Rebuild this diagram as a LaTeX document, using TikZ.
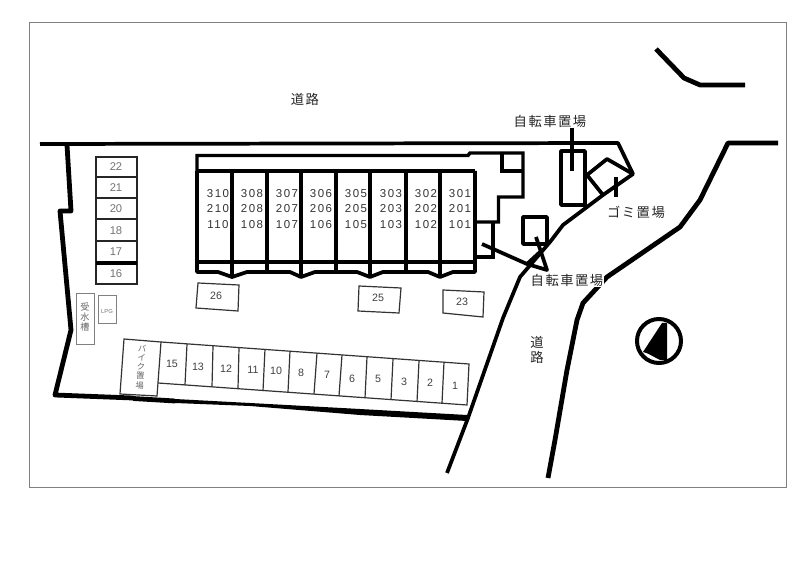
\documentclass[tikz,border=0pt]{standalone}
\usepackage{fontspec}
\setmainfont{Liberation Sans}
\newfontfamily\cjk{Noto Sans CJK JP}
\tikzset{
    wall/.style = {line width=3.6pt,black,line join=round},
    wallm/.style = {line width=2.8pt,black,line join=round},
    walls/.style = {line width=2.6pt,black},
    lotline/.style = {line width=1.6pt,black!85},
    stall/.style = {line width=0.9pt,black!80},
    stallg/.style = {line width=0.7pt,black!50},
    frame/.style = {line width=0.6pt,black!50},
    roomtxt/.style = {align=center,text=black!80,font=\fontsize{8.6}{11.6}\selectfont\addfontfeatures{LetterSpace=13}},
    numtxt/.style = {text=black!75,inner sep=0pt,font=\fontsize{8}{9}\selectfont},
    numtxtg/.style = {text=black!55,inner sep=0pt,font=\fontsize{8.4}{9}\selectfont},
    jptxt/.style = {inner sep=0pt,align=center,text=black!85,font=\cjk\fontsize{10}{11.6}\selectfont\addfontfeatures{LetterSpace=11}},
    jpsmall/.style = {inner sep=0pt,align=center,text=black!60,font=\cjk\fontsize{6.8}{7.6}\selectfont},
    jpbike/.style = {inner sep=0pt,align=center,text=black!60,font=\cjk\fontsize{6.2}{6.9}\selectfont}
}
\begin{document}
\begin{tikzpicture}[x=0.75pt,y=-0.75pt,line join=miter]
  \useasboundingbox (0,0) rectangle (800,566);
  \draw[frame] (29,22) rectangle (786,487);

  % fences and road edges
  \draw[wallm] (40,144) -- (618,143) -- (633,174) -- (603,195) -- (563,225) -- (550,242) -- (520,277) -- (503,318) -- (468,418) -- (447,473);
  \draw[wall] (67,145) -- (71,211) -- (60,211) -- (71,330) -- (55,395) -- (133,398);
  \draw[wall] (133,398.5) -- (175,401);
  \fill (175,399) -- (175,403) -- (250,406) -- (360,415) -- (467,421) -- (467,415) -- (360,409) -- (250,403) -- cycle;
  \draw[wall] (778,143) -- (728,143) -- (700,200) -- (680,227) -- (607,277) -- (583,303) -- (577,320) -- (567,370) -- (555,440) -- (548,478);
  \draw[wall] (656,49) -- (684,78) -- (700,85) -- (745,85);

  % apartment block
  \draw[walls] (197,171) -- (197,155.5) -- (468,155.5) -- (470,153) -- (523,153) -- (523,197) -- (498.5,197) -- (498.5,222) -- (475,222);
  \draw[walls] (502,153) -- (502,171) -- (523,171);
  \draw[walls] (475,257) -- (493,257) -- (493,222);
  \draw[wallm] (197,171) -- (475,171);
  \draw[wallm] (197,262) -- (475,262);
  \draw[wallm] (197,171) -- (197,272) -- (218,272) -- (232,277) -- (247,272) -- (290,272) -- (301,277) -- (315,272) -- (357,272) -- (370,277) -- (383,272) -- (428,272) -- (440,277) -- (453,272) -- (475,272) -- (475,171);
  \draw[wall] (232,171) -- (232,276);
  \draw[wall] (267,171) -- (267,272);
  \draw[wall] (301,171) -- (301,276);
  \draw[wall] (336,171) -- (336,272);
  \draw[wall] (370,171) -- (370,276);
  \draw[wall] (406,171) -- (406,272);
  \draw[wall] (440,171) -- (440,276);
  \node[roomtxt] (room310) at (218,209) {310\\210\\110};
  \node[roomtxt] (room308) at (252,209) {308\\208\\108};
  \node[roomtxt] (room307) at (287,209) {307\\207\\107};
  \node[roomtxt] (room306) at (321,209) {306\\206\\106};
  \node[roomtxt] (room305) at (356,209) {305\\205\\105};
  \node[roomtxt] (room303) at (391,209) {303\\203\\103};
  \node[roomtxt] (room302) at (426,209) {302\\202\\102};
  \node[roomtxt] (room301) at (460,209) {301\\201\\101};

  % bicycle and rubbish sheds
  \draw[wallm] (561,151) rectangle (585,205);
  \draw[wallm] (572,128) -- (572,171);
  \draw[wallm] (587,175) -- (607,159) -- (633,174);
  \draw[wallm] (587,175) -- (603,195);
  \draw[wallm] (616,177) -- (616,197);
  \draw[wallm] (523,217) rectangle (547,244);
  \draw[wallm] (482,244) -- (527,264) -- (547,270) -- (536,237);
  \draw[wallm] (527,264) -- (540,252);

  % parking left
  \draw[lotline] (96,157) rectangle (137,284);
  \draw[lotline] (96,177) -- (137,177);
  \draw[lotline] (96,198) -- (137,198);
  \draw[lotline] (96,219) -- (137,219);
  \draw[lotline] (96,241) -- (137,241);
  \draw[walls] (96,263) -- (137,263);
  \node[numtxtg] (lot22) at (116,167) {22};
  \node[numtxtg] (lot21) at (116,188) {21};
  \node[numtxtg] (lot20) at (116,209) {20};
  \node[numtxtg] (lot18) at (116,231) {18};
  \node[numtxtg] (lot17) at (116,252) {17};
  \node[numtxtg] (lot16) at (116,274) {16};

  % tank and gas
  \draw[stallg] (76,293) rectangle (94,344);
  \draw[stallg] (98,295) rectangle (116,323);
  \node[jpsmall] (tank) at (85,317) {受\\水\\槽};
  \node[numtxtg,font=\fontsize{4.4}{5}\selectfont] (gas) at (107,311) {LPG};

  % parking bottom
  \draw[stall] (124,339) -- (161,342) -- (157,396) -- (120,394) -- cycle;
  \draw[stall] (161,342) -- (469,364) -- (467,405) -- (158,383);
  \draw[stall] (187,344) -- (185,385);
  \draw[stall] (213,346) -- (212,387);
  \draw[stall] (239,348) -- (238,389);
  \draw[stall] (265,349) -- (263,391);
  \draw[stall] (290,351) -- (288,392);
  \draw[stall] (317,353) -- (314,394);
  \draw[stall] (342,355) -- (339,396);
  \draw[stall] (367,357) -- (365,398);
  \draw[stall] (393,359) -- (391,400);
  \draw[stall] (419,361) -- (417,402);
  \draw[stall] (444,362) -- (442,403);
  \node[jpbike,rotate=-4] (bike) at (141,367) {バ\\イ\\ク\\置\\場};
  \node[numtxt] (lot15) at (172,364) {15};
  \node[numtxt] (lot13) at (198,367) {13};
  \node[numtxt] (lot12) at (226,369) {12};
  \node[numtxt] (lot11) at (253,370) {11};
  \node[numtxt] (lot10) at (276,371) {10};
  \node[numtxt] (lot8) at (301,373) {8};
  \node[numtxt] (lot7) at (327,375) {7};
  \node[numtxt] (lot6) at (352,379) {6};
  \node[numtxt] (lot5) at (378,379) {5};
  \node[numtxt] (lot3) at (404,382) {3};
  \node[numtxt] (lot2) at (430,383) {2};
  \node[numtxt] (lot1) at (455,386) {1};

  % loose lots
  \draw[stall] (198,283) -- (239,285) -- (238,311) -- (196,308) -- cycle;
  \draw[stall] (359,286) -- (401,288) -- (399,313) -- (358,311) -- cycle;
  \draw[stall] (443,290) -- (484,292) -- (483,317) -- (443,313) -- cycle;
  \node[numtxt] (lot26) at (216,296) {26};
  \node[numtxt] (lot25) at (378,298) {25};
  \node[numtxt] (lot23) at (462,302) {23};

  % labels
  \node[jptxt] (roadtop) at (305,99) {道路};
  \node[jptxt] (cycletop) at (550,121) {自転車置場};
  \node[jptxt] (rubbish) at (636,212) {ゴミ置場};
  \node[jptxt,fill=white,inner sep=0.5pt] (cyclelow) at (567,280) {自転車置場};
  \node[jptxt] (roadlow) at (537,350) {道\\路};

  % north mark
  \draw[line width=3pt] (659,341) circle (22);
  \fill (662,323) -- (667,323) -- (667,360) -- (660,360) .. controls (652,356) and (648,353) .. (643,352) -- cycle;
\end{tikzpicture}
\end{document}
